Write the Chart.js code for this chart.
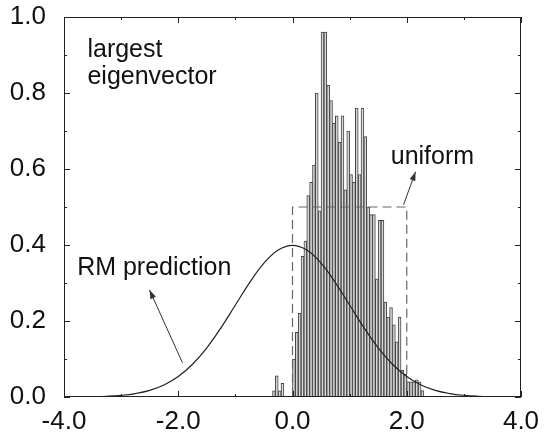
<!DOCTYPE html>
<html><head><meta charset="utf-8">
<script src="https://cdn.jsdelivr.net/npm/chart.js@4.4.1/dist/chart.umd.min.js"></script>
<style>html,body{margin:0;padding:0;background:#fff}#wrap{width:544px;height:435px}</style>
</head><body><div id="wrap"><canvas id="c" width="544" height="435"></canvas></div>
<script>
// histogram bin centers (bin width 0.05) and heights
const histCenters = [-0.325,-0.275,-0.225,-0.175,-0.125,-0.075,-0.025,
 0.025,0.075,0.125,0.175,0.225,0.275,0.325,0.375,0.425,0.475,
 0.525,0.575,0.625,0.675,0.725,0.775,0.825,0.875,0.925,0.975,
 1.025,1.075,1.125,1.175,1.225,1.275,1.325,1.375,1.425,1.475,
 1.525,1.575,1.625,1.675,1.725,1.775,1.825,1.875,1.925,1.975,
 2.025,2.075,2.125,2.175,2.225,2.275];
const histHeights = [0.016,0.056,0.016,0.036,0,0,0,
 0.10,0.17,0.22,0.37,0.41,0.53,0.565,0.61,0.80,0.49,
 0.96,0.96,0.82,0.78,0.72,0.74,0.67,0.74,0.545,0.70,
 0.585,0.565,0.76,0.585,0.76,0.685,0.50,0.48,0.48,0.31,
 0.465,0.465,0.25,0.21,0.235,0.19,0.145,0.21,0.07,0.06,
 0.04,0.04,0.04,0.045,0.04,0.017];
// RM prediction curve
const rmX = [-4,-3.75,-3.5,-3.25,-3,-2.75,-2.5,-2.25,-2,-1.75,-1.5,-1.25,-1,-0.75,-0.5,-0.25,0,
 0.25,0.5,0.75,1,1.25,1.5,1.75,2,2.25,2.5,2.75,3,3.25,3.5,3.75,4];
const rmY = [0.0001,0.0004,0.0009,0.002,0.0044,0.0091,0.0175,0.0317,0.054,0.0863,0.1295,0.1826,0.242,0.3011,0.3521,0.3867,0.3989,
 0.3867,0.3521,0.3011,0.242,0.1826,0.1295,0.0863,0.054,0.0317,0.0175,0.0091,0.0044,0.002,0.0009,0.0004,0.0001];
// uniform distribution outline
const uniX = [0,0,2,2];
const uniY = [0,0.5,0.5,0];
// axis ticks
const xTickLabels = ['-4.0','-2.0','0.0','2.0','4.0'];
const yTickLabels = ['0.0','0.2','0.4','0.6','0.8','1.0'];
// annotations: [text, x, y]
const notes = [['largest',-3.59,0.914],['eigenvector',-3.59,0.843],['uniform',1.72,0.632],['RM prediction',-3.77,0.34]];
// arrows: [x0,y0,x1,y1] head at (x1,y1)
const arrows = [[1.944,0.506,2.154,0.593],[-1.926,0.09,-2.504,0.282]];

const FONT = '"Liberation Sans", Arial, sans-serif';

const framePlugin = {
  id:'frame',
  afterDraw(chart){
    const ctx = chart.ctx, a = chart.chartArea, xs = chart.scales.x, ys = chart.scales.y;
    ctx.save();
    ctx.strokeStyle = '#222'; ctx.lineWidth = 1;
    ctx.strokeRect(a.left+0.5, a.top+0.5, a.right-a.left-1, a.bottom-a.top-1);
    ctx.beginPath();
    for (let v=-4; v<=4; v+=1){
      const p = Math.round(xs.getPixelForValue(v))+0.5;
      const L = (v%2===0)?6:3;
      ctx.moveTo(p,a.bottom); ctx.lineTo(p,a.bottom-L);
      ctx.moveTo(p,a.top); ctx.lineTo(p,a.top+L);
    }
    for (let i=0;i<=10;i++){
      const v=i/10;
      const p = Math.round(ys.getPixelForValue(v))+0.5;
      const L = (i%2===0)?6:3;
      ctx.moveTo(a.left,p); ctx.lineTo(a.left+L,p);
      ctx.moveTo(a.right,p); ctx.lineTo(a.right-L,p);
    }
    ctx.stroke();
    // annotations
    ctx.fillStyle = '#111';
    ctx.font = '25px ' + FONT;
    ctx.textBaseline = 'middle'; ctx.textAlign = 'left';
    notes.forEach(n=>ctx.fillText(n[0], xs.getPixelForValue(n[1]), ys.getPixelForValue(n[2])));
    ctx.strokeStyle = '#333'; ctx.fillStyle = '#333'; ctx.lineWidth = 1;
    arrows.forEach(r=>{
      const x0=xs.getPixelForValue(r[0]), y0=ys.getPixelForValue(r[1]);
      const x1=xs.getPixelForValue(r[2]), y1=ys.getPixelForValue(r[3]);
      ctx.beginPath(); ctx.moveTo(x0,y0); ctx.lineTo(x1,y1); ctx.stroke();
      const ang=Math.atan2(y1-y0,x1-x0), L=9, W=3;
      ctx.beginPath();
      ctx.moveTo(x1,y1);
      ctx.lineTo(x1-L*Math.cos(ang)+W*Math.sin(ang), y1-L*Math.sin(ang)-W*Math.cos(ang));
      ctx.lineTo(x1-L*Math.cos(ang)-W*Math.sin(ang), y1-L*Math.sin(ang)+W*Math.cos(ang));
      ctx.closePath(); ctx.fill();
    });
    ctx.restore();
  }
};

new Chart(document.getElementById('c'), {
  type:'bar',
  data:{
    datasets:[
      {type:'line', label:'RM prediction', data: rmX.map((x,i)=>({x, y:rmY[i]})),
       borderColor:'#222', borderWidth:1.2, pointRadius:0, tension:0.4, fill:false},
      {type:'line', label:'uniform', data: uniX.map((x,i)=>({x, y:uniY[i]})),
       borderColor:'#666', borderWidth:1.2, borderDash:[9,5], pointRadius:0, tension:0, fill:false},
      {type:'bar', label:'largest eigenvector', data: histCenters.map((x,i)=>({x, y:histHeights[i]})),
       backgroundColor:'#d8d8d8', borderColor:'#444', borderWidth:1, borderSkipped:false,
       barPercentage:1.0, categoryPercentage:1.0}
    ]
  },
  options:{
    responsive:false, animation:false, events:[],
    layout:{padding:{left:0,right:23,top:17,bottom:0}},
    plugins:{legend:{display:false}, tooltip:{enabled:false}},
    scales:{
      x:{type:'linear', min:-4, max:4, offset:false,
         grid:{display:false, drawTicks:false}, border:{display:false},
         ticks:{stepSize:2, padding:9, color:'#111', font:{family:FONT, size:26},
                maxRotation:0, autoSkip:false,
                callback:(v)=>{const i=[-4,-2,0,2,4].indexOf(v); return i>=0?xTickLabels[i]:'';}},
         afterFit:(s)=>{s.height=38; s.paddingLeft=0; s.paddingRight=0;}},
      y:{min:0, max:1,
         grid:{display:false, drawTicks:false}, border:{display:false},
         ticks:{stepSize:0.2, padding:18, color:'#111', font:{family:FONT, size:26},
                callback:(v)=>{const i=Math.round(v*5); return (Math.abs(v*5-i)<1e-6)?yTickLabels[i]:'';}},
         afterFit:(s)=>{s.width=64; s.paddingTop=0; s.paddingBottom=0;}}
    }
  },
  plugins:[framePlugin]
});
</script></body></html>
